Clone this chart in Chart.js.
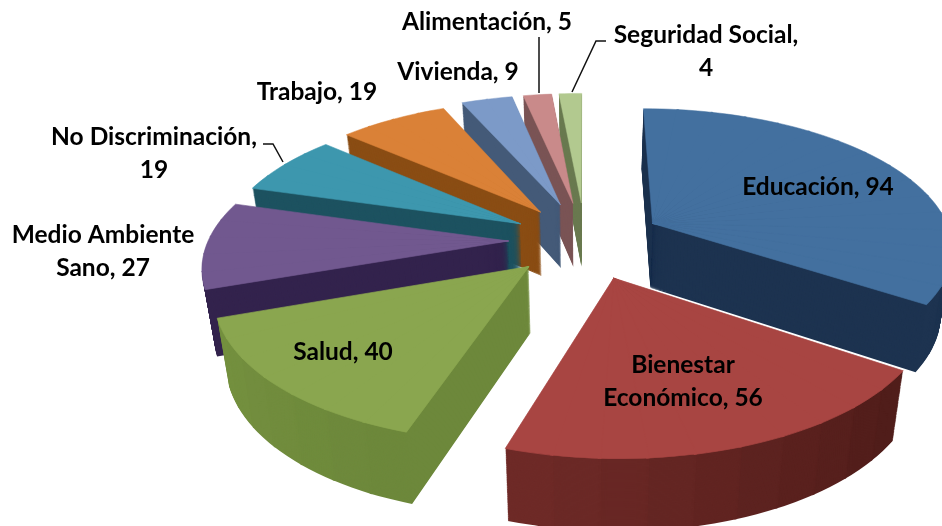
<!DOCTYPE html>
<html><head><meta charset="utf-8">
<style>html,body{margin:0;padding:0;background:#fff}canvas{display:block;filter:blur(0.45px)}</style>
<script src="https://cdn.jsdelivr.net/npm/chart.js@4"></script>
</head><body><canvas id="c" width="942" height="526"></canvas>
<script>
const categories = ['Educación','Bienestar Económico','Salud','Medio Ambiente Sano','No Discriminación','Trabajo','Vivienda','Alimentación','Seguridad Social'];
const values = [94,56,40,27,19,19,9,5,4];
const topColors = ['#43709f','#a84542','#8aa64f','#71588f','#3d97ae','#da8137','#7c9ac8','#c98a8a','#b2c98f'];
const wallStart = ['#1d3350','#4e1c19','#6c873b','#33234d','#1d5260','#8a4d14','#445a78','#7a5455','#6a7a50'];
const wallEnd   = ['#1d3350','#702b28','#75913f','#33234d','#1d5260','#8a4d14','#445a78','#7a5455','#6a7a50'];
const explodeBy = [0.26,0.28,0.26,0.255,0.25,0.26,0.28,0.28,0.28];
// label layout: centre x, first baseline, words per line
const labelCx = [818,683,343,103,154,317,458,487,706];
const labelY  = [195,373,360,243,145,100,80,30,43];
const labelWrap = [[2],[1,2],[2],[2,2],[2,1],[2],[2],[2],[2,1]];
const labelLine = 33;
const leaders = [null,null,null,null,[[263,144],[273,144],[283,162]],null,null,[[539,37],[539,93]],[[606,41],[596,41],[572,92]]];

// camera model of the 3-D pie
const cam = {cx:585, cy:240, B:300, A:138, k:0.16, depth:65, depthPow:0.5, shrink:0.968, wedge:8*Math.PI/180};
function project(u,v,t){
  const w = 1/(1-cam.k*v);
  const s = 1-(1-cam.shrink)*t;
  return [cam.cx + cam.B*u*w*s, cam.cy + cam.A*v*w + cam.depth*Math.pow(w,cam.depthPow)*t];
}
function hex(c){return [1,3,5].map(i=>parseInt(c.substr(i,2),16));}
function mix(a,b,f){const x=hex(a),y=hex(b);return 'rgb('+x.map((n,i)=>Math.round(n+(y[i]-n)*f)).join(',')+')';}

function drawWedge(ctx,el,a1,a2,mid,e,t,color,seal){
  const ou=Math.cos(mid)*e, ov=Math.sin(mid)*e, R=el.outerRadius;
  const d0=project(ou,ov,t);
  const d1=project(ou+Math.cos(a1),ov+Math.sin(a1),t);
  const d2=project(ou+Math.cos(a2),ov+Math.sin(a2),t);
  const e1=[R*Math.cos(a1),R*Math.sin(a1)], e2=[R*Math.cos(a2),R*Math.sin(a2)];
  const det=e1[0]*e2[1]-e2[0]*e1[1];
  const i=[e2[1]/det,-e2[0]/det,-e1[1]/det,e1[0]/det];
  const p=[d1[0]-d0[0],d1[1]-d0[1]], q=[d2[0]-d0[0],d2[1]-d0[1]];
  const a=p[0]*i[0]+q[0]*i[2], c=p[0]*i[1]+q[0]*i[3];
  const b=p[1]*i[0]+q[1]*i[2], d=p[1]*i[1]+q[1]*i[3];
  ctx.save();
  ctx.transform(a,b,c,d,d0[0]-a*el.x-c*el.y,d0[1]-b*el.x-d*el.y);
  const s=Object.create(el);
  s.startAngle=a1; s.endAngle=a2; s.circumference=a2-a1;
  const o=Object.create(el.options); o.backgroundColor=color;
  if(seal){o.borderWidth=0.7;o.borderColor=color;o.borderAlign='center';}
  s.options=o;
  el.draw.call(s,ctx);
  ctx.restore();
}
function wedges(el){
  const n=Math.max(1,Math.ceil((el.endAngle-el.startAngle)/cam.wedge)), out=[], st=(el.endAngle-el.startAngle)/n;
  const pad=0.004;
  for(let i=0;i<n;i++){
    out.push([el.startAngle+i*st-(i?pad:0), el.startAngle+(i+1)*st+(i<n-1?pad:0),(i+.5)/n]);
  }
  return out;
}
const pie3d={
  id:'pie3d',
  beforeDatasetDraw(chart,args){
    const ctx=chart.ctx, els=chart.getDatasetMeta(args.index).data;
    const order=els.map((el,i)=>i).sort((x,y)=>{
      const m=el=>Math.sin((el.startAngle+el.endAngle)/2);
      return m(els[x])-m(els[y]);
    });
    order.forEach(i=>{
      const el=els[i], mid=(el.startAngle+el.endAngle)/2, parts=wedges(el), e=explodeBy[i];
      for(let l=cam.depth;l>0;l--){
        parts.forEach(p=>drawWedge(ctx,el,p[0],p[1],mid,e,l/cam.depth,mix(wallStart[i],wallEnd[i],p[2]),false));
      }
      parts.forEach(p=>drawWedge(ctx,el,p[0],p[1],mid,e,0,topColors[i],true));
    });
    return false;
  },
  afterDraw(chart){
    const ctx=chart.ctx;
    ctx.save();
    ctx.fillStyle='#000'; ctx.strokeStyle='#111'; ctx.lineWidth=1.5;
    ctx.textAlign='center'; ctx.textBaseline='alphabetic';
    ctx.font='bold 24.5px Lato';
    categories.forEach((cat,i)=>{
      const words=(cat+', '+values[i]).split(' ');
      let k=0;
      labelWrap[i].forEach((n,j)=>{
        ctx.fillText(words.slice(k,k+n).join(' '),labelCx[i],labelY[i]+j*labelLine);
        k+=n;
      });
      if(leaders[i]){
        ctx.beginPath();
        leaders[i].forEach((p,j)=>j?ctx.lineTo(p[0],p[1]):ctx.moveTo(p[0],p[1]));
        ctx.stroke();
      }
    });
    ctx.restore();
  }
};
new Chart(document.getElementById('c'),{
  type:'pie',
  data:{labels:categories,datasets:[{data:values,backgroundColor:topColors,borderWidth:0}]},
  options:{responsive:false,animation:false,rotation:0,
    plugins:{legend:{display:false},tooltip:{enabled:false}}},
  plugins:[pie3d]
});
</script></body></html>
